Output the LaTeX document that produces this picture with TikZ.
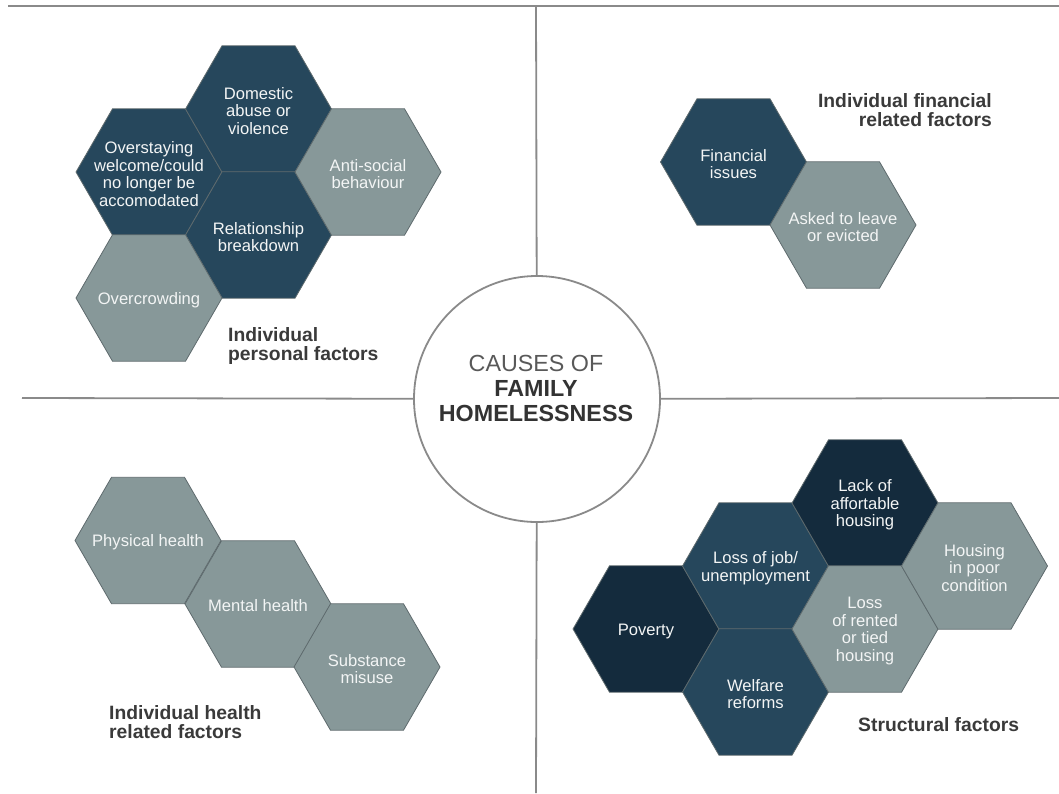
\documentclass[tikz,border=0pt]{standalone}
\usepackage{fontspec}
\setmainfont{Liberation Sans}
\usetikzlibrary{shapes.geometric}
\definecolor{navy}{HTML}{142B3D}
\definecolor{slate}{HTML}{26475C}
\definecolor{ash}{HTML}{879899}
\definecolor{rim}{HTML}{5E6A6D}
\definecolor{rule}{HTML}{8A8A8A}
\definecolor{ink}{HTML}{3A3A3A}

\begin{document}
\begin{tikzpicture}
[
x=1pt,y=-1pt,
cell/.style 2 args={regular polygon,regular polygon sides=6,minimum size=146pt,inner sep=0pt,outer sep=0pt,fill=#1,draw=rim,line width=0.8pt,label={[celltext]center:{#2}}},
celltext/.style={align=center,text=white!90!ash,font=\fontsize{16.6}{17.5}\selectfont,yshift=-2pt},
group/.style={font=\fontsize{19.3}{18.5}\selectfont\bfseries,text=ink,inner sep=0pt},
divider/.style={draw=rule,line width=1.8pt},
]
\useasboundingbox (0,0) rectangle (1059,793);

%Place the frame
\coordinate (topl) at (8,6);
\coordinate (topm) at (536,6);
\coordinate (topr) at (1059,6);
\coordinate (midl) at (22,398);
\coordinate (midr) at (1059,398);
\coordinate (bot) at (536,793);
\node[circle,draw=rule,line width=1.8pt,fill=white,minimum size=246pt,inner sep=0pt] (hub) at (537,399) {};
\node[align=center,font=\fontsize{23.3}{25}\selectfont] (title) at (536,388) {\textcolor{black!65}{CAUSES OF}\\\textcolor{black!80}{\bfseries FAMILY}\\\textcolor{black!80}{\bfseries HOMELESSNESS}};

%Draw the dividers
\draw[divider] (topl) -- (topr);
\draw[divider] (topm) -- (hub);
\draw[divider] (hub) -- (bot);
\draw[divider] (midl) -- (hub);
\draw[divider] (hub) -- (midr);

%Individual personal factors
\node[cell={slate}{Overstaying\\welcome/could\\no longer be\\accomodated}] (overstay) at (149,172) {};
\node[cell={slate}{Domestic\\abuse or\\violence}] (domestic) at (258.5,109) {};
\node[cell={slate}{Relationship\\breakdown}] (breakdown) at (258.5,235) {};
\node[cell={ash}{Anti-social\\behaviour}] (antisocial) at (368,172) {};
\node[cell={ash}{Overcrowding}] (overcrowd) at (149,298) {};
\node[group,anchor=west,align=left] (personal) at (228,346) {Individual\\personal factors};

%Individual financial related factors
\node[cell={slate}{Financial\\issues}] (money) at (733.5,162) {};
\node[cell={ash}{Asked to leave\\or evicted}] (evicted) at (843,225) {};
\node[group,anchor=east,align=right] (financial) at (992,110) {Individual financial\\related factors};

%Individual health related factors
\node[cell={ash}{Physical health}] (physical) at (148,540.5) {};
\node[cell={ash}{Mental health}] (mental) at (258,604) {};
\node[cell={ash}{Substance\\misuse}] (substance) at (367,667) {};
\node[group,anchor=west,align=left] (health) at (109,722) {Individual health\\related factors};

%Structural factors
\node[cell={navy}{Poverty}] (poverty) at (646,629) {};
\node[cell={slate}{Loss of job/\\unemployment}] (jobloss) at (755.5,566) {};
\node[cell={slate}{Welfare\\reforms}] (welfare) at (755.5,692) {};
\node[cell={navy}{Lack of\\affortable\\housing}] (afford) at (865,503) {};
\node[cell={ash}{Loss\\of rented\\or tied\\housing}] (rented) at (865,629) {};
\node[cell={ash}{Housing\\in poor\\condition}] (poorcond) at (974.5,566) {};
\node[group,anchor=west] (structural) at (858,725) {Structural factors};
\end{tikzpicture}
\end{document}
